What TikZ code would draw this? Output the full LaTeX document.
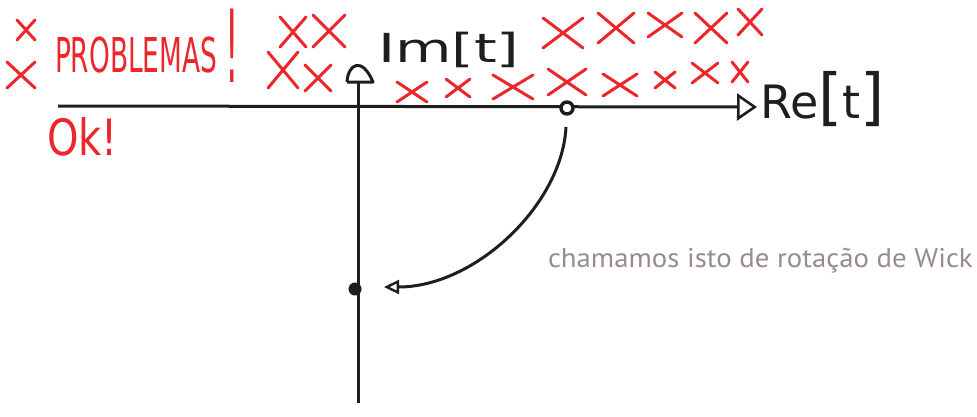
\documentclass[tikz,border=0pt]{standalone}
\usepackage{fontspec}
\setmainfont{DejaVu Sans}
\newfontfamily\notefont{PT Sans}
\usetikzlibrary{arrows.meta}
\definecolor{xred}{RGB}{236,38,42}
\definecolor{notegray}{RGB}{152,138,142}
\definecolor{ink}{RGB}{30,30,30}
\tikzset{
  xmark/.style={xred, line width=3pt, line cap=round},
  cross/.pic={\draw[xmark] (-1,-1) -- (1,1) (-1,1) -- (1,-1);},
  axis/.style={ink, line width=3pt},
  hand/.style={inner sep=0pt, outer sep=0pt},
}
\begin{document}
\begin{tikzpicture}[x=1pt,y=-1pt]
\useasboundingbox (0,0) rectangle (977,416);
% axes
\coordinate (hstart) at (58,106);
\coordinate (hend) at (757,107);
\coordinate (vbot) at (358,403);
\coordinate (vtop) at (358,82);
\draw[axis, -{Triangle[open,length=20pt,width=27pt,line width=2.6pt]}] (hstart) -- (hend);
\draw[axis] (vbot) -- (vtop);
\draw[axis, line join=round] (347,82) .. controls (348,64) and (362,56) .. (373,82) -- (347,82);
% dots
\node[circle, draw=ink, fill=white, line width=3.4pt, minimum size=12pt, inner sep=0pt] (d1) at (567,108) {};
\node[circle, fill=ink, minimum size=13pt, inner sep=0pt] (d2) at (355,289) {};
% rotation curve
\coordinate (cstart) at (566,127);
\coordinate (cend) at (384,287);
\draw[axis, -{Triangle[open,length=15pt,width=14pt,line width=2.4pt]}] (cstart) .. controls (562,205) and (475,287) .. (cend);
% labels
\node[hand, anchor=base west, text=ink] (im) at (378,62) {\fontsize{40}{40}\selectfont\scalebox{1.45}[1]{Im[t]}};
\node[hand, anchor=base west, text=ink] (re) at (760,118) {\fontsize{46}{46}\selectfont R\kern-2pt e{\fontsize{62}{62}\selectfont[}t{\fontsize{62}{62}\selectfont]}};
\node[hand, anchor=base west, text=xred] (prob) at (55,72) {\fontsize{48}{48}\selectfont\scalebox{0.55}[1]{PROBLEMAS}\kern8pt\raisebox{-10pt}{\scalebox{0.7}[2.1]{!}}};
\node[hand, anchor=base west, text=xred] (ok) at (47,155) {\fontsize{50}{50}\selectfont\scalebox{0.8}[1]{Ok!}};
\node[hand, anchor=base west, text=notegray] (note) at (548,267) {\notefont\fontsize{27}{27}\selectfont\scalebox{1.065}[1]{chamamos isto de rotação de Wick}};
% red crosses
\pic[xscale=9,yscale=10] at (26,30) {cross};
\pic[xscale=14,yscale=13] at (21,75) {cross};
\pic[xscale=13,yscale=15] at (293,32) {cross};
\pic[xscale=16,yscale=16] at (329,31) {cross};
\pic[xscale=15,yscale=18] at (283,70) {cross};
\pic[xscale=13,yscale=13] at (318,78) {cross};
\pic[xscale=20,yscale=15] at (563,33) {cross};
\pic[xscale=18,yscale=15] at (616,28) {cross};
\pic[xscale=17,yscale=12] at (665,25) {cross};
\pic[xscale=16,yscale=15] at (711,28) {cross};
\pic[xscale=12,yscale=13] at (750,22) {cross};
\pic[xscale=15,yscale=10] at (412,92) {cross};
\pic[xscale=12,yscale=9] at (458,88) {cross};
\pic[xscale=20,yscale=12] at (513,87) {cross};
\pic[xscale=19,yscale=13] at (567,82) {cross};
\pic[xscale=17,yscale=11] at (620,85) {cross};
\pic[xscale=10,yscale=8] at (665,80) {cross};
\pic[xscale=13,yscale=10] at (705,73) {cross};
\pic[xscale=8,yscale=10] at (740,72) {cross};
\end{tikzpicture}
\end{document}
